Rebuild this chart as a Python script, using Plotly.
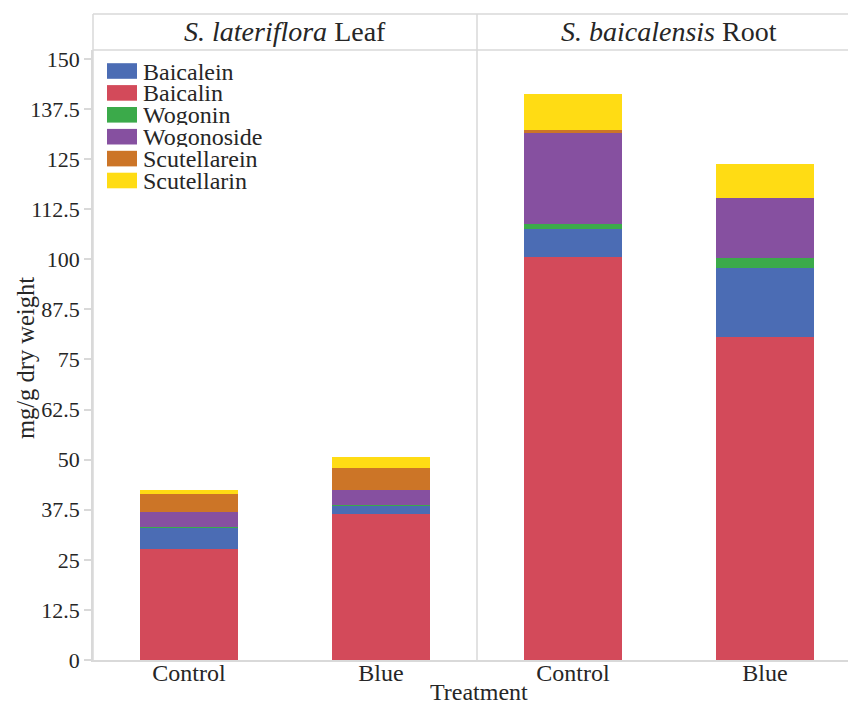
import plotly.graph_objects as go

# ---- data (mg/g dry weight) ----
treatments = ["Control", "Blue"]
panel_titles = ["<i>S. lateriflora</i> Leaf", "<i>S. baicalensis</i> Root"]

# stacking order, bottom to top
compounds = ["Baicalin", "Baicalein", "Wogonin", "Wogonoside", "Scutellarein", "Scutellarin"]
legend_order = ["Baicalein", "Baicalin", "Wogonin", "Wogonoside", "Scutellarein", "Scutellarin"]

# values per compound: [Control, Blue]
leaf_baicalin = [27.6, 36.4]
leaf_baicalein = [5.4, 2.2]
leaf_wogonin = [0.3, 0.1]
leaf_wogonoside = [3.7, 3.7]
leaf_scutellarein = [4.5, 5.4]
leaf_scutellarin = [0.9, 2.8]

root_baicalin = [100.6, 80.5]
root_baicalein = [6.9, 17.2]
root_wogonin = [1.4, 2.7]
root_wogonoside = [22.5, 14.8]
root_scutellarein = [0.8, 0.0]
root_scutellarin = [8.9, 8.5]

y_tick_vals = [0, 12.5, 25, 37.5, 50, 62.5, 75, 87.5, 100, 112.5, 125, 137.5, 150]
y_tick_text = ["0", "12.5", "25", "37.5", "50", "62.5", "75", "87.5", "100", "112.5", "125", "137.5", "150"]

leaf = {
    "Baicalin": leaf_baicalin, "Baicalein": leaf_baicalein, "Wogonin": leaf_wogonin,
    "Wogonoside": leaf_wogonoside, "Scutellarein": leaf_scutellarein, "Scutellarin": leaf_scutellarin,
}
root = {
    "Baicalin": root_baicalin, "Baicalein": root_baicalein, "Wogonin": root_wogonin,
    "Wogonoside": root_wogonoside, "Scutellarein": root_scutellarein, "Scutellarin": root_scutellarin,
}

colors = {
    "Baicalein": "#4B6CB4",
    "Baicalin": "#D34A5A",
    "Wogonin": "#3BAA4A",
    "Wogonoside": "#8650A0",
    "Scutellarein": "#CC7527",
    "Scutellarin": "#FFDC14",
}

FONT = "Liberation Serif"
TXT = "#262626"
LINE = "#d9d9d9"

W, H = 848, 704
ML, MT, MB = 93, 50, 44
PW = W - ML
PH = H - MT - MB
CAT = 192  # pixels per treatment band


def px_x(px):
    return (px - ML) / PW


def px_y(py):
    return (H - MB - py) / PH


split = px_x(ML + 2 * CAT)

fig = go.Figure()
for name in compounds:
    fig.add_trace(go.Bar(x=treatments, y=leaf[name], name=name, xaxis="x", yaxis="y",
                         marker=dict(color=colors[name], line=dict(width=0)),
                         showlegend=False))
    fig.add_trace(go.Bar(x=treatments, y=root[name], name=name, xaxis="x2", yaxis="y",
                         marker=dict(color=colors[name], line=dict(width=0)),
                         showlegend=False))

shapes = []
annotations = []

# facet header frame
top = px_y(14)
for x0, y0, x1, y1 in [(0, top, 1, top), (0, 1, 1, 1), (0, 0, 0, top), (split, 0, split, top)]:
    shapes.append(dict(type="line", xref="paper", yref="paper", x0=x0, y0=y0, x1=x1, y1=y1,
                       line=dict(color=LINE, width=1.5)))

# facet titles
centers = [px_x(ML + CAT), px_x(ML + 3 * CAT)]
for cx, title in zip(centers, panel_titles):
    annotations.append(dict(x=cx, y=(1 + top) / 2, xref="paper", yref="paper", text=title,
                            showarrow=False, xanchor="center", yanchor="middle",
                            font=dict(family=FONT, size=28, color=TXT)))

# legend block (compact rows)
row0, step = 71, 21.9
for i, name in enumerate(legend_order):
    cy = row0 + i * step
    shapes.append(dict(type="rect", xref="paper", yref="paper",
                       x0=px_x(107), x1=px_x(137), y0=px_y(cy + 7.8), y1=px_y(cy - 7.8),
                       fillcolor=colors[name], line=dict(width=0)))
    annotations.append(dict(x=px_x(141), y=px_y(cy + 0.5), xref="paper", yref="paper", text=name,
                            showarrow=False, xanchor="left", yanchor="middle", height=20,
                            font=dict(family=FONT, size=24, color=TXT)))

# shared axis titles
annotations.append(dict(x=px_x(ML + 2 * CAT + 2), y=px_y(692), xref="paper", yref="paper",
                        text="Treatment", showarrow=False, xanchor="center", yanchor="middle",
                        height=22, font=dict(family=FONT, size=24, color=TXT)))
annotations.append(dict(x=px_x(26), y=px_y(358), xref="paper", yref="paper",
                        text="mg/g dry weight", textangle=-90, showarrow=False,
                        xanchor="center", yanchor="middle",
                        font=dict(family=FONT, size=24.5, color=TXT)))

xaxis_common = dict(type="category", showgrid=False, zeroline=False, showline=True,
                    linecolor=LINE, linewidth=2, ticks="", fixedrange=True,
                    ticklabelstandoff=-10,
                    tickfont=dict(family=FONT, size=24, color=TXT))

fig.update_layout(
    width=W, height=H,
    margin=dict(l=ML, r=0, t=MT, b=MB, pad=0),
    paper_bgcolor="white", plot_bgcolor="white",
    barmode="stack", bargap=0.485,
    showlegend=False,
    xaxis=dict(domain=[0, split], range=[-0.5, 1.5], anchor="y", **xaxis_common),
    xaxis2=dict(domain=[split, 1], range=[-0.5, -0.5 + (W - ML - 2 * CAT) / CAT], anchor="y",
                **xaxis_common),
    yaxis=dict(range=[0, 152.2], tickvals=y_tick_vals, ticktext=y_tick_text,
               showgrid=False, zeroline=False, showline=True, linecolor=LINE, linewidth=1.5,
               ticks="outside", ticklen=7, tickcolor=LINE, tickwidth=1.5,
               tickfont=dict(family=FONT, size=22, color=TXT)),
    shapes=shapes,
    annotations=annotations,
)

fig.write_html("out.html")
